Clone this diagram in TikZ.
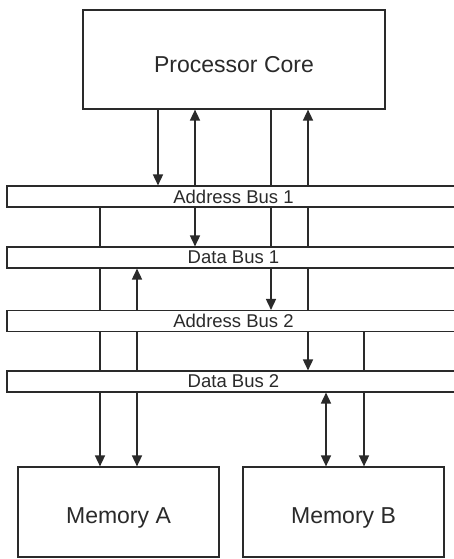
\documentclass[tikz,border=0pt]{standalone}
\usepackage{fontspec}
\setmainfont{Liberation Sans}
\usetikzlibrary{arrows.meta}
\definecolor{ink}{HTML}{2A2A2A}
\begin{document}
\begin{tikzpicture}[x=1pt,y=-1pt,
  box/.style={draw=ink,line width=1.2pt,fill=white,inner sep=0pt,minimum width=#1},
  busbox/.style={draw=ink,line width=1.1pt,fill=white,inner sep=0pt,minimum width=453pt,minimum height=21pt,text=ink,font=\fontsize{18.5}{20}\selectfont},
  wire/.style={draw=ink,line width=1.6pt},
  arr/.style={wire,-{Triangle[length=11pt,width=10pt]}},
  darr/.style={wire,{Triangle[length=11pt,width=10pt]}-{Triangle[length=11pt,width=10pt]}},
  bigtxt/.style={text=ink,font=\fontsize{23}{25}\selectfont}]
\useasboundingbox (0,0) rectangle (453,559);
\node[box=302pt,minimum height=99pt,label={[bigtxt,yshift=-5pt]center:Processor Core}] (proc) at (234,59.5) {};
\node[busbox] (ab1) at (233.5,196.5) {\raisebox{-2pt}{Address Bus 1}};
\node[busbox] (db1) at (233.5,257.5) {\raisebox{-1.5pt}{Data Bus 1}};
\node[busbox] (ab2) at (233.5,321) {\raisebox{-1.5pt}{Address Bus 2}};
\node[busbox] (db2) at (233.5,381.5) {\raisebox{-1.5pt}{Data Bus 2}};
\node[box=201pt,minimum height=90pt,label={[bigtxt,yshift=-6pt]center:Memory A}] (mema) at (118.5,512) {};
\node[box=201pt,minimum height=90pt,label={[bigtxt,yshift=-6pt]center:Memory B}] (memb) at (343.5,512) {};
\coordinate (c1) at (158,0);
\coordinate (c2) at (195,0);
\coordinate (c3) at (271,0);
\coordinate (c4) at (308,0);
\coordinate (c5) at (100,0);
\coordinate (c6) at (137,0);
\coordinate (c7) at (326,0);
\coordinate (c8) at (364,0);
% column 1
\draw[arr] (proc.south -| c1) -- (ab1.north -| c1);
% column 2
\draw[arr] (ab1.north -| c2) -- (proc.south -| c2);
\draw[arr] (ab1.south -| c2) -- (db1.north -| c2);
% column 3
\draw[wire] (proc.south -| c3) -- (ab1.north -| c3);
\draw[wire] (ab1.south -| c3) -- (db1.north -| c3);
\draw[arr] (db1.south -| c3) -- (ab2.north -| c3);
% column 4
\draw[arr] (ab1.north -| c4) -- (proc.south -| c4);
\draw[wire] (ab1.south -| c4) -- (db1.north -| c4);
\draw[wire] (db1.south -| c4) -- (ab2.north -| c4);
\draw[arr] (ab2.south -| c4) -- (db2.north -| c4);
% column 5
\draw[wire] (ab1.south -| c5) -- (db1.north -| c5);
\draw[wire] (db1.south -| c5) -- (ab2.north -| c5);
\draw[wire] (ab2.south -| c5) -- (db2.north -| c5);
\draw[arr] (db2.south -| c5) -- (mema.north -| c5);
% column 6
\draw[arr] (ab2.north -| c6) -- (db1.south -| c6);
\draw[wire] (ab2.south -| c6) -- (db2.north -| c6);
\draw[arr] (db2.south -| c6) -- (mema.north -| c6);
% column 7
\draw[darr] (db2.south -| c7) -- (memb.north -| c7);
% column 8
\draw[wire] (ab2.south -| c8) -- (db2.north -| c8);
\draw[arr] (db2.south -| c8) -- (memb.north -| c8);
\end{tikzpicture}
\end{document}
